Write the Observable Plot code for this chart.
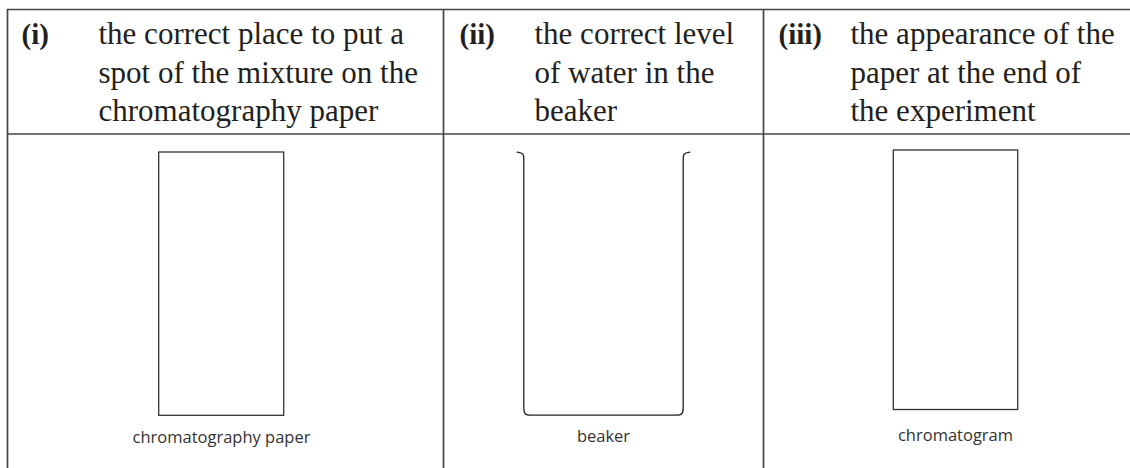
<!DOCTYPE html>
<html>
<head>
<meta charset="utf-8">
<script src="https://cdn.jsdelivr.net/npm/d3@7"></script>
<script src="https://cdn.jsdelivr.net/npm/@observablehq/plot@0.6"></script>
<style>
  html, body { margin: 0; padding: 0; background: #fff; }
  #chart svg { display: block; }
</style>
</head>
<body>
<div id="chart"></div>
<script>
// ---- content ----
const numerals = ["(i)", "(ii)", "(iii)"];
const headerLines = [
  ["the correct place to put a", "spot of the mixture on the", "chromatography paper"],
  ["the correct level", "of water in the", "beaker"],
  ["the appearance of the", "paper at the end of", "the experiment"]
];
const itemLabels = ["chromatography paper", "beaker", "chromatogram"];

// ---- layout (pixel coordinates in the 1130x468 frame) ----
const W = 1130, H = 468;
const tableTop = 9, headerBottom = 133.5;
const columnEdges = [7, 443, 763];
const numeralX = [21, 459, 778];
const textX = [98, 534, 850];
const lineBaselines = [43.5, 82, 120];
const labelX = [221, 603, 955];
const labelBaselines = [442.5, 441.5, 440];

// paper rectangles (column i and iii)
const papers = [
  {x1: 158.7, x2: 283.7, y1: 152, y2: 415.3},
  {x1: 893.3, x2: 1017.7, y1: 150, y2: 409.5}
];

// beaker outline control points (B-spline; repeated points keep edges straight)
const beakerX = [516.7,516.7,516.7, 523.3, 523.3,523.3,523.3, 523.3,523.3,523.3, 523.3, 532,532,532, 674,674,674, 682.7, 682.7,682.7,682.7, 682.7,682.7,682.7, 682.7, 689.3,689.3,689.3];
const beakerY = [151.7,151.7,151.7, 152.3, 160,160,160, 406,406,406, 414.7, 414.7,414.7,414.7, 414.7,414.7,414.7, 414.7, 406,406,406, 160,160,160, 152.3, 151.7,151.7,151.7];

// ---- derived tables ----
const headerText = headerLines.flatMap((lines, c) =>
  lines.map((t, i) => ({text: t, x: textX[c], y: lineBaselines[i]})));
const numeralText = numerals.map((t, c) => ({text: t, x: numeralX[c], y: lineBaselines[0]}));
const labels = itemLabels.map((t, c) => ({text: t, x: labelX[c], y: labelBaselines[c]}));
const beaker = beakerX.map((x, i) => ({x, y: beakerY[i]}));

const borderColor = "#454545";

const chart = Plot.plot({
  width: W,
  height: H,
  margin: 0,
  style: {background: "#fff", overflow: "hidden"},
  x: {type: "linear", domain: [0, W], range: [0, W], axis: null},
  y: {type: "linear", domain: [0, H], range: [0, H], axis: null},
  marks: [
    // table grid
    Plot.ruleY([tableTop], {x1: columnEdges[0], x2: W + 5, stroke: borderColor, strokeWidth: 1.7}),
    Plot.ruleY([headerBottom], {x1: columnEdges[0], x2: W + 5, stroke: borderColor, strokeWidth: 1.7}),
    Plot.ruleX(columnEdges, {y1: tableTop, y2: H + 5, stroke: borderColor, strokeWidth: 1.7}),
    // header numerals and texts
    Plot.text(numeralText, {x: "x", y: "y", text: "text", textAnchor: "start", lineAnchor: "bottom",
      fontFamily: "Liberation Serif", fontWeight: "bold", fontSize: 29, fill: "#231f20"}),
    Plot.text(headerText, {x: "x", y: "y", text: "text", textAnchor: "start", lineAnchor: "bottom",
      fontFamily: "Liberation Serif", fontSize: 31, fill: "#231f20"}),
    // paper rectangles
    Plot.rect(papers, {x1: "x1", x2: "x2", y1: "y1", y2: "y2", fill: "none", stroke: "#333", strokeWidth: 1.3}),
    // beaker
    Plot.line(beaker, {x: "x", y: "y", curve: "basis", stroke: "#222", strokeWidth: 1.3, fill: "none"}),
    // item labels
    Plot.text(labels, {x: "x", y: "y", text: "text", textAnchor: "middle", lineAnchor: "bottom",
      fontFamily: "Open Sans", fontSize: 16.5, fill: "#333"})
  ]
});

document.getElementById("chart").append(chart);
</script>
</body>
</html>
